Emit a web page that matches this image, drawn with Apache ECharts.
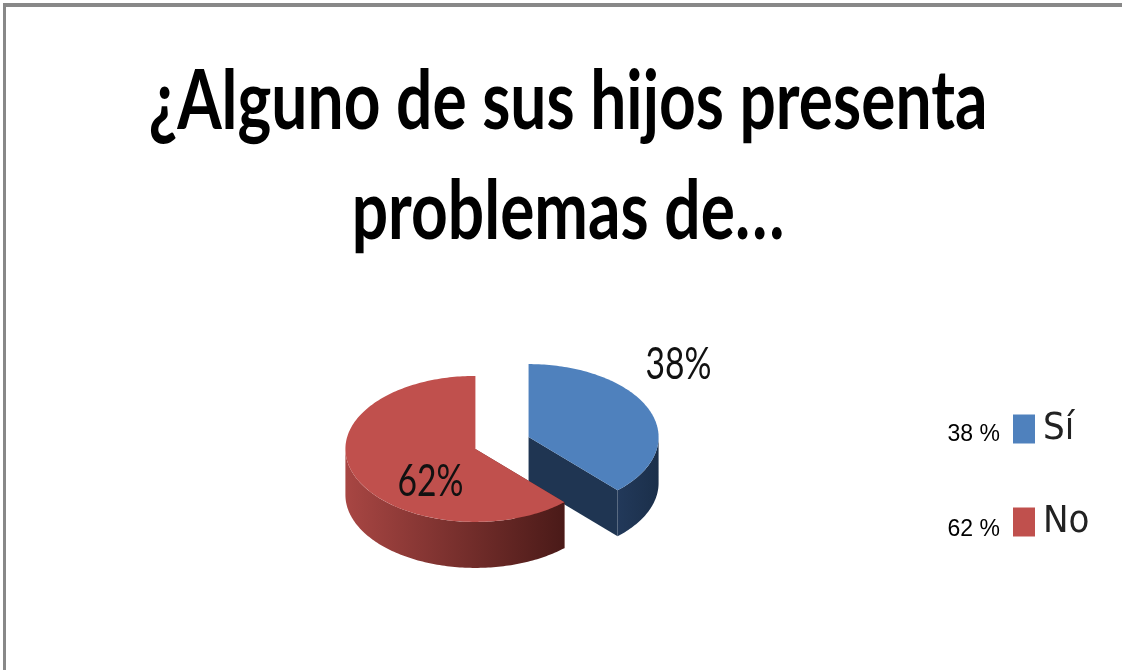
<!DOCTYPE html>
<html>
<head>
<meta charset="utf-8">
<script src="https://cdn.jsdelivr.net/npm/echarts@6/dist/echarts.min.js"></script>
<style>
  html, body { margin: 0; padding: 0; background: #fff; }
  #chart { width: 1122px; height: 670px; }
</style>
</head>
<body>
<div id="chart"></div>
<script>
// ---- data ----
const titleLines = ['¿Alguno de sus hijos presenta', 'problemas de…'];
const categories = ['Sí', 'No'];
const values = [38, 62];

// ---- styles ----
const topColors = ['#4F81BD', '#C0504D'];
const sideColors = ['#1F3552', '#6A2624'];
const wallGradients = [
  ['#22395A', '#1B2F4A'],
  ['#A84643', '#4A1A18']
];
const labelOffsets = [[150, -72], [-45, 33]];

const NARROW = "'Liberation Sans Narrow', 'DejaVu Sans Condensed', 'Liberation Sans', sans-serif";
const TITLE_FONT = "Lato, 'Open Sans', 'Liberation Sans', sans-serif";
const LABEL_FONT = "Lato, 'Open Sans', 'Liberation Sans', sans-serif";
const PIE = { cx: 502, cy: 443, rx: 130, ry: 73, depth: 46, explode: 0.22 };

const measureCtx = document.createElement('canvas').getContext('2d');
function fitScale(text, font, targetW) {
  measureCtx.font = font;
  const w = measureCtx.measureText(text).width;
  return w > 0 ? targetW / w : 1;
}

const TITLE_SIZE = 82;
const titleScale = fitScale(titleLines[0], 'bold ' + TITLE_SIZE + 'px ' + TITLE_FONT, 839);
const LABEL_SIZE = 44;
const labelScale = fitScale('38%', 'normal ' + LABEL_SIZE + 'px ' + LABEL_FONT, 66);

function makeRender(i) {
  return function (params, api) {
    const total = values.reduce((a, b) => a + b, 0);
    let start = 0;
    for (let k = 0; k < i; k++) start += values[k];
    const v = api.value(0);
    const TAU = Math.PI * 2;
    const a0 = start / total * TAU;
    const a1 = (start + v) / total * TAU;
    const mid = (a0 + a1) / 2;
    const cx = PIE.cx + PIE.explode * PIE.rx * Math.sin(mid);
    const cy = PIE.cy - PIE.explode * PIE.ry * Math.cos(mid);
    const D = PIE.depth;
    const pt = (a, dy) => [cx + PIE.rx * Math.sin(a), cy - PIE.ry * Math.cos(a) + (dy || 0)];
    const arc = (b0, b1, dy) => {
      const n = Math.max(2, Math.ceil((b1 - b0) / 0.02));
      const pts = [];
      for (let j = 0; j <= n; j++) pts.push(pt(b0 + (b1 - b0) * j / n, dy));
      return pts;
    };
    const children = [];
    // radial cut faces
    [a0, a1].forEach(a => {
      const p = pt(a);
      children.push({
        type: 'polygon',
        shape: { points: [[cx, cy], p, [p[0], p[1] + D], [cx, cy + D]] },
        style: { fill: sideColors[i] }
      });
    });
    // outer wall (front half only)
    const w0 = Math.max(a0, Math.PI / 2);
    const w1 = Math.min(a1, Math.PI * 1.5);
    if (w1 > w0) {
      const topArc = arc(w0, w1, 0);
      const botArc = arc(w0, w1, D).reverse();
      children.push({
        type: 'polygon',
        shape: { points: topArc.concat(botArc) },
        style: {
          fill: {
            type: 'linear', x: 1, y: 0, x2: 0, y2: 0,
            colorStops: [
              { offset: 0, color: wallGradients[i][1] },
              { offset: 1, color: wallGradients[i][0] }
            ]
          }
        }
      });
    }
    // top face
    children.push({
      type: 'polygon',
      shape: { points: [[cx, cy]].concat(arc(a0, a1, 0)) },
      style: { fill: topColors[i] }
    });
    // percent label
    children.push({
      type: 'text',
      x: cx + labelOffsets[i][0],
      y: cy + labelOffsets[i][1],
      scaleX: labelScale,
      style: {
        text: v + '%',
        x: 0,
        y: 0,
        align: 'center',
        verticalAlign: 'middle',
        fontSize: LABEL_SIZE,
        fontWeight: 'normal',
        fontFamily: LABEL_FONT,
        fill: '#111'
      }
    });
    return { type: 'group', children: children };
  };
}

const chart = echarts.init(document.getElementById('chart'), null, { renderer: 'canvas' });

const legendTops = [410, 503];
const smallLabelY = [435, 530];

const legendBase = {
  orient: 'vertical',
  left: 1013,
  padding: 0,
  itemWidth: 22,
  itemHeight: 29,
  icon: 'rect',
  selectedMode: false,
  textStyle: {
    fontFamily: NARROW,
    fontSize: 38,
    color: '#222',
    padding: [0, 0, 0, 3]
  }
};

chart.setOption({
  animation: false,
  backgroundColor: '#ffffff',
  color: topColors,
  legend: categories.map((c, i) => Object.assign({}, legendBase, { top: legendTops[i], data: [c] })),
  graphic: [
    { type: 'rect', shape: { x: 3, y: 3, width: 1119, height: 4 }, style: { fill: '#888' }, silent: true },
    { type: 'rect', shape: { x: 3, y: 3, width: 3, height: 667 }, style: { fill: '#888' }, silent: true }
  ].concat(titleLines.map((t, i) => ({
    type: 'text',
    x: 568,
    y: 103 + 110 * i,
    scaleX: titleScale,
    silent: true,
    style: {
      text: t,
      x: 0,
      y: 0,
      align: 'center',
      verticalAlign: 'middle',
      fontFamily: TITLE_FONT,
      fontWeight: 'bold',
      fontSize: TITLE_SIZE,
      fill: '#000'
    }
  }))).concat(categories.map((c, i) => ({
    type: 'text',
    silent: true,
    style: {
      text: values[i] + ' %',
      x: 1000,
      y: smallLabelY[i],
      align: 'right',
      verticalAlign: 'middle',
      fontFamily: "'Liberation Sans', 'Open Sans', sans-serif",
      fontSize: 23,
      fill: '#000'
    }
  }))),
  series: categories.map((c, i) => ({
    type: 'custom',
    name: c,
    coordinateSystem: 'none',
    renderItem: makeRender(i),
    itemStyle: { color: topColors[i] },
    data: [[values[i]]]
  }))
});
</script>
</body>
</html>
